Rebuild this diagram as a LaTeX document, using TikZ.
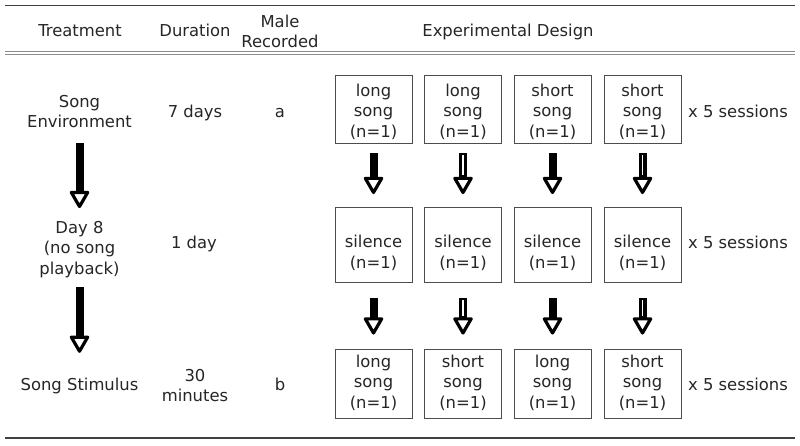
\documentclass[tikz,border=0pt]{standalone}
\usepackage{fontspec}
\setmainfont{DejaVu Sans}
\usetikzlibrary{arrows.meta}
\begin{document}
\begin{tikzpicture}[x=1pt,y=-1pt,
 txt/.style={font=\fontsize{16.4}{19.5}\selectfont, align=center, inner sep=0pt, text=black!85, anchor=base},
 btxt/.style={txt, font=\fontsize{16.4}{20.5}\selectfont},
 box/.style={draw=black!70, line width=0.9pt, minimum width=77pt, inner sep=0pt},
 bigarr/.style={line width=8pt, -{Triangle[round,length=19pt,width=21pt,line width=3.2pt,fill=white]}},
 hollow/.style={draw=white, line width=1.3pt},
 rule/.style={draw=black!75, line width=1pt}
]
\useasboundingbox (0,0) rectangle (800,445);
% rules
\draw[rule] (5,5) -- (795,5);
\draw[draw=gray!90, line width=1pt] (5,51.8) -- (795,51.8);
\draw[draw=gray!90, line width=1pt] (5,54.8) -- (795,54.8);
\draw[rule, line width=1.3pt] (5,438) -- (795,438);
% header (anchor base = baseline of the last line)
\node[txt] (hT) at (80,36) {Treatment};
\node[txt] (hD) at (195,36) {Duration};
\node[txt, font=\fontsize{16.4}{20}\selectfont] (hM) at (280,47) {Male\\Recorded};
\node[txt] (hE) at (508,36) {Experimental Design};
% left column
\node[txt] (t1) at (79.5,127) {Song\\Environment};
\node[txt, font=\fontsize{16.4}{20.5}\selectfont] (t2) at (79.5,274) {Day 8\\(no song\\playback)};
\node[txt] (t3) at (79.5,390) {Song Stimulus};
\draw[bigarr, shorten <=16pt, shorten >=12.5pt] (t1.south) -- (t1.south |- t2.north);
\draw[bigarr, shorten <=9pt, shorten >=24.5pt] (t2.south) -- (t2.south |- t3.north);
% duration
\node[txt] (d1) at (195,117) {7 days};
\node[txt] (d2) at (194,248) {1 day};
\node[txt] (d3) at (195,401) {30\\minutes};
% male
\node[txt] (m1) at (280,117) {a};
\node[txt] (m3) at (280,390) {b};
% box frames
\foreach \c/\x in {1/373.5,2/463,3/552.5,4/642.5}{
  \node[box, minimum height=68pt] (b1\c) at (\x,109) {};
  \node[box, minimum height=75pt] (b2\c) at (\x,245) {};
  \node[box, minimum height=69pt] (b3\c) at (\x,383.5) {};
}
% box texts
\node[btxt] (b11t) at (b11 |- 0,137) {long\\song\\(n=1)};
\node[btxt] (b12t) at (b12 |- 0,137) {long\\song\\(n=1)};
\node[btxt] (b13t) at (b13 |- 0,137) {short\\song\\(n=1)};
\node[btxt] (b14t) at (b14 |- 0,137) {short\\song\\(n=1)};
\node[btxt] (b21t) at (b21 |- 0,268) {silence\\(n=1)};
\node[btxt] (b22t) at (b22 |- 0,268) {silence\\(n=1)};
\node[btxt] (b23t) at (b23 |- 0,268) {silence\\(n=1)};
\node[btxt] (b24t) at (b24 |- 0,268) {silence\\(n=1)};
\node[btxt] (b31t) at (b31 |- 0,408) {long\\song\\(n=1)};
\node[btxt] (b32t) at (b32 |- 0,408) {short\\song\\(n=1)};
\node[btxt] (b33t) at (b33 |- 0,408) {long\\song\\(n=1)};
\node[btxt] (b34t) at (b34 |- 0,408) {short\\song\\(n=1)};
% sessions
\node[txt] (s1) at (738,117) {x 5 sessions};
\node[txt] (s2) at (738,248) {x 5 sessions};
\node[txt] (s3) at (738,390) {x 5 sessions};
% grid arrows
\foreach \c in {1,2,3,4}{
  \draw[bigarr, shorten <=10pt, shorten >=13pt] (b1\c.south) -- (b2\c.north);
  \draw[bigarr, shorten <=15.5pt, shorten >=14pt] (b2\c.south) -- (b3\c.north);
}
\foreach \c in {2,4}{
  \draw[hollow, shorten <=12pt, shorten >=32pt] (b1\c.south) -- (b2\c.north);
  \draw[hollow, shorten <=17.5pt, shorten >=33pt] (b2\c.south) -- (b3\c.north);
}
\end{tikzpicture}
\end{document}
